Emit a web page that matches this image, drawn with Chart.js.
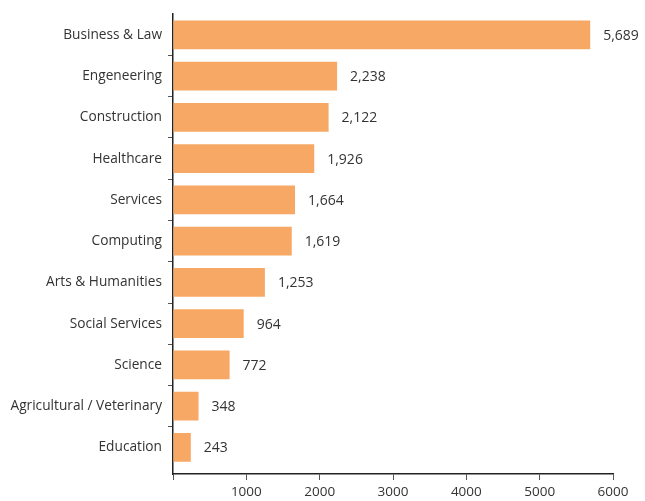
<!DOCTYPE html>
<html>
<head>
<meta charset="utf-8">
<script src="https://cdn.jsdelivr.net/npm/chart.js@4"></script>
<style>
	html, body {
		margin: 0;
		padding: 0;
		background: #ffffff;
	}

	#wrap {
		width: 645px;
		height: 501px;
	}
</style>
</head>
<body>
<div id="wrap">
	<canvas id="myChart"></canvas>
</div>
<script>
	const categories = [
		'Business & Law',
		'Engeneering',
		'Construction',
		'Healthcare',
		'Services',
		'Computing',
		'Arts & Humanities',
		'Social Services',
		'Science',
		'Agricultural / Veterinary',
		'Education'
	];

	const students = [5689, 2238, 2122, 1926, 1664, 1619, 1253, 964, 772, 348, 243];

	const xTicks = [0, 1000, 2000, 3000, 4000, 5000, 6000];

	const axisColor = '#222222';
	const textColor = '#333333';
	const barColor = '#f7a864';

	// writes the value next to the end of each bar
	const valueLabels = {
		id: 'valueLabels',
		afterDatasetsDraw(chart) {
			const ctx = chart.ctx;
			const meta = chart.getDatasetMeta(0);
			ctx.save();
			ctx.font = '14px "Open Sans"';
			ctx.fillStyle = textColor;
			ctx.textAlign = 'left';
			ctx.textBaseline = 'middle';
			meta.data.forEach(function (bar, i) {
				ctx.fillText(students[i].toLocaleString('en-US'), bar.x + 13, bar.y + 1);
			});
			ctx.restore();
		}
	};

	const data = {
		labels: categories,
		datasets: [{
			data: students,
			backgroundColor: barColor,
			borderWidth: 0,
			categoryPercentage: 1,
			barPercentage: 0.7
		}]
	};

	const config = {
		type: 'bar',
		data: data,
		options: {
			indexAxis: 'y',
			responsive: true,
			maintainAspectRatio: false,
			animation: false,
			layout: {
				padding: { top: 14, right: 32, left: 0, bottom: 0 }
			},
			plugins: {
				legend: { display: false },
				tooltip: { enabled: false }
			},
			scales: {
				x: {
					min: 0,
					max: 6000,
					afterBuildTicks: function (scale) {
						scale.ticks = xTicks.map(v => ({ value: v }));
					},
					afterFit: function (scale) {
						scale.height = 27;
					},
					border: { color: axisColor, width: 1.5 },
					grid: {
						drawOnChartArea: false,
						drawTicks: true,
						tickLength: 6,
						color: '#555555'
					},
					ticks: {
						color: textColor,
						font: { family: 'Open Sans', size: 13.5 },
						padding: 4,
						maxRotation: 0,
						callback: v => (v === 0 ? '' : String(v))
					}
				},
				y: {
					offset: true,
					afterBuildTicks: function (scale) {
						// leave a little room below the last bar
						scale._valueRange += 0.145;
					},
					afterFit: function (scale) {
						scale.width = 173;
					},
					border: { color: axisColor, width: 1.5 },
					grid: {
						offset: true,
						drawOnChartArea: false,
						tickLength: 5,
						color: c => (c.index > 0 ? '#555555' : 'rgba(0,0,0,0)')
					},
					ticks: {
						color: textColor,
						font: { family: 'Open Sans', size: 13.7 },
						padding: 6
					}
				}
			}
		},
		plugins: [valueLabels]
	};

	const myChart = new Chart(document.getElementById('myChart'), config);
</script>
</body>
</html>
